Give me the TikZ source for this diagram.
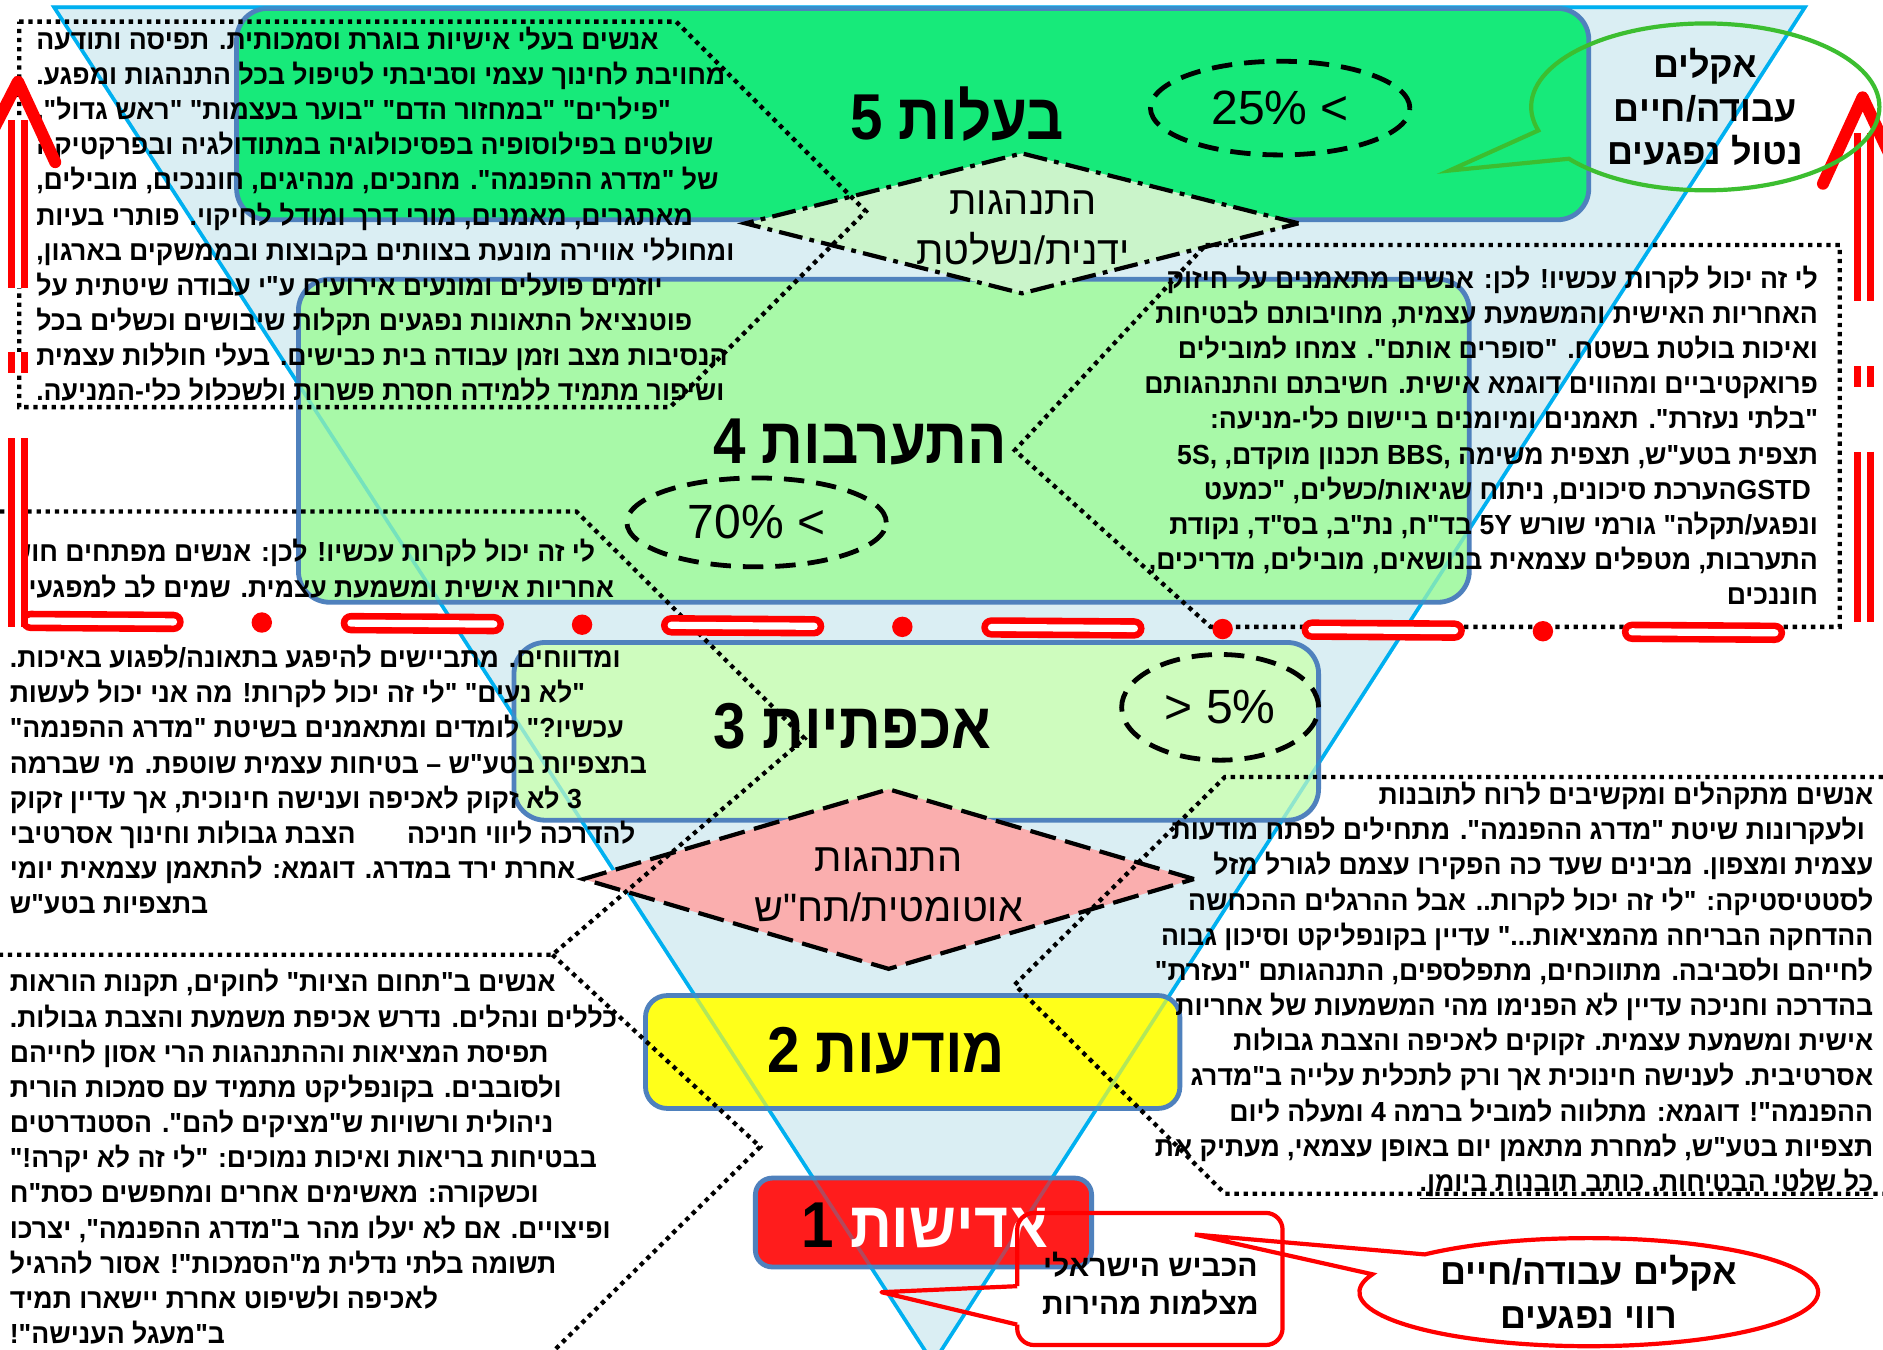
\documentclass[tikz,border=0pt]{standalone}
\usepackage{fontspec}
\setmainfont{Liberation Sans}
\newfontfamily\heb[Script=Hebrew]{Liberation Sans}
\newfontfamily\hebbody[Script=Hebrew, FakeStretch=0.965]{Liberation Sans}
\newfontfamily\hebtitle[Script=Hebrew, FakeStretch=0.9]{Liberation Sans}
\usetikzlibrary{shapes.geometric,shapes.callouts}
\TeXXeTstate=1

\definecolor{triblue}{RGB}{218,238,243}
\definecolor{tricyan}{RGB}{0,176,240}
\definecolor{lvlblue}{RGB}{79,129,189}
\definecolor{lvlfive}{RGB}{23,234,122}
\definecolor{lvlfour}{RGB}{168,249,168}
\definecolor{lvlthree}{RGB}{206,252,190}
\definecolor{lvltwo}{RGB}{255,255,26}
\definecolor{lvlone}{RGB}{255,28,28}
\definecolor{dmdgreen}{RGB}{202,244,202}
\definecolor{dmdpink}{RGB}{250,174,174}
\definecolor{callgreen}{RGB}{60,190,48}
\definecolor{redline}{RGB}{255,0,0}

\newcommand\rl[1]{\beginR#1\endR}
\newcommand\bodyfont{\hebbody\bfseries\fontsize{23}{29.3}\selectfont}
\newcommand\titlefont{\hebtitle\bfseries\fontsize{54}{60}\selectfont}
\newcommand\dmdfont{\heb\fontsize{33}{42}\selectfont}
\newcommand\pctfont{\fontsize{40}{44}\selectfont}
\newcommand\callfont{\heb\bfseries\fontsize{30}{36.5}\selectfont}
\newcommand\roadfont{\heb\bfseries\fontsize{25}{32}\selectfont}

\tikzset{
  lvlbox/.style={draw=lvlblue, line width=4pt, rounded corners=26pt, inner sep=0pt},
  lvltitle/.style={font=\titlefont, inner sep=0pt},
  dmdshape/.style={diamond, draw, line width=3.5pt, inner sep=0pt},
  dmdtxt/.style={align=center, font=\dmdfont, inner sep=0pt},
  pctring/.style={ellipse, draw, line width=4pt, dash pattern=on 17pt off 10pt, inner sep=0pt, font=\pctfont},
  bodytxt/.style={font=\bodyfont, inner sep=0pt},
  dotframe/.style={line width=3.6pt, dash pattern=on 3.6pt off 4pt},
  redpill/.style={draw=redline, line width=5.5pt, double=white, double distance=6pt, line cap=round},
  redside/.style={draw=redline, line width=6pt, double=white, double distance=5pt},
  redtip/.style={draw=redline, line width=10pt, line cap=round, line join=round},
  redcall/.style={draw=redline, line width=3.5pt},
}

\begin{document}
\begin{tikzpicture}[x=1pt, y=-1pt]
\useasboundingbox (0,0) rectangle (1568,1124);
\clip (0,0) rectangle (1568,1124);
\fill[white] (0,0) rectangle (1568,1124);

% inverted pyramid
\filldraw[fill=triblue, draw=tricyan, line width=3pt] (45,6) -- (1503,6) -- (777,1135) -- cycle;

% levels
\node[lvlbox, fill=lvlfive, minimum width=1126pt, minimum height=176pt] (lvlFive) at (760,95) {};
\node[lvlbox, fill=lvlfour, minimum width=975pt, minimum height=269pt] (lvlFour) at (736,367) {};
\node[lvlbox, fill=lvlthree, minimum width=670pt, minimum height=148pt] (lvlThree) at (763,609) {};
\node[lvlbox, fill=lvltwo, minimum width=445pt, minimum height=94pt, rounded corners=18pt] (lvlTwo) at (760,876) {};
\node[lvlbox, fill=lvlone, minimum width=280pt, minimum height=74pt, rounded corners=14pt] (lvlOne) at (769,1018) {};
\draw[tricyan, line width=3pt, opacity=0.3] (45,6) -- (1503,6) -- (777,1135) -- cycle;

% behaviour diamonds
\node[dmdshape, fill=dmdgreen, minimum width=462pt, minimum height=118pt,
  dash pattern=on 20pt off 6pt on 4pt off 6pt] (dmdHand) at (851,186) {};
\node[dmdtxt] (dmdHandTxt) at (852,190) {\rl{התנהגות}\\\rl{ידנית/נשלטת}};
\node[dmdshape, fill=dmdpink, minimum width=510pt, minimum height=151pt,
  dash pattern=on 22pt off 8pt] (dmdAuto) at (740,732) {};
\node[dmdtxt] (dmdAutoTxt) at (740,737) {\rl{התנהגות}\\\rl{אוטומטית/תח"ש}};

% percentages
\node[pctring, minimum width=216pt, minimum height=78pt] (pctFive) at (1066,90) {25\% <};
\node[pctring, minimum width=216pt, minimum height=74pt] (pctFour) at (630,435) {70\% <};
\node[pctring, minimum width=164pt, minimum height=88pt] (pctThree) at (1016,589) {> 5\%};

% titles
\node[lvltitle] (ttlFive) at (797,95) {\rl{בעלות 5}};
\node[lvltitle] (ttlFour) at (716,368) {\rl{התערבות 4}};
\node[lvltitle] (ttlThree) at (710,605) {\rl{אכפתיות 3}};
\node[lvltitle] (ttlTwo) at (738,875) {\rl{מודעות 2}};
\node[lvltitle] (ttlOne) at (770,1020) {\rl{{\color{white}אדישות} 1}};

% text blocks
\node[bodytxt, align=left, anchor=north west] (txtFive) at (30,22) {%
\rl{אנשים בעלי אישיות בוגרת וסמכותית. תפיסה ותודעה}\\
\rl{מחויבת לחינוך עצמי וסביבתי לטיפול בכל התנהגות ומפגע.}\\
\rl{"פילרים" "במחזור הדם" "בוער בעצמות" "ראש גדול".}\\
\rl{שולטים בפילוסופיה בפסיכולוגיה במתודולגיה ובפרקטיקה}\\
\rl{של "מדרג ההפנמה". מחנכים, מנהיגים, חוננכים, מובילים,}\\
\rl{מאתגרים, מאמנים, מורי דרך ומודל לחיקוי. פותרי בעיות}\\
\rl{ומחוללי אווירה מונעת בצוותים בקבוצות ובממשקים בארגון,}\\
\rl{יוזמים פועלים ומונעים אירועים ע"י עבודה שיטתית על}\\
\rl{פוטנציאל התאונות נפגעים תקלות שיבושים וכשלים בכל}\\
\rl{הנסיבות מצב וזמן עבודה בית כבישים. בעלי חוללות עצמית}\\
\rl{ושיפור מתמיד ללמידה חסרת פשרות ולשכלול כלי-המניעה.}};

\node[bodytxt, align=right, anchor=north east] (txtFour) at (1514,221) {%
\rl{לי זה יכול לקרות עכשיו!  לכן: אנשים מתאמנים על חיזוק}\\
\rl{האחריות האישית והמשמעת עצמית, מחויבותם לבטיחות}\\
\rl{ואיכות בולטת בשטח. "סופרים אותם". צמחו למובילים}\\
\rl{פרואקטיביים ומהווים דוגמא אישית. חשיבתם והתנהגותם}\\
\rl{"בלתי נעזרת". תאמנים ומיומנים ביישום כלי-מניעה:}\\
\rl{תצפית בטע"ש, תצפית משימה BBS, תכנון מוקדם, 5S,}\\
\rl{GSTD\kern0ptהערכת סיכונים, ניתוח שגיאות/כשלים, "כמעט}\kern6pt\\
\rl{ונפגע/תקלה" גורמי שורש 5Y בד"ח, נת"ב, בס"ד, נקודת}\\
\rl{התערבות, מטפלים עצמאית בנושאים, מובילים, מדריכים,}\\
\rl{חוננכים}};

\node[bodytxt, align=left, anchor=north west] (txtFourLeft) at (8,449) {%
\rl{לי זה יכול לקרות עכשיו! לכן: אנשים מפתחים חוש}\\
\rl{אחריות אישית ומשמעת עצמית. שמים לב למפגעים}};

\node[bodytxt, align=left, anchor=north west] (txtThree) at (8,537) {%
\rl{ומדווחים. מתביישים להיפגע בתאונה/לפגוע באיכות.}\\
\rl{"לא נעים" "לי זה יכול לקרות! מה אני יכול לעשות}\\
\rl{עכשיו?" לומדים ומתאמנים בשיטת "מדרג ההפנמה"}\\
\rl{בתצפיות בטע"ש – בטיחות עצמית שוטפת. מי שברמה}\\
\rl{3 לא זקוק לאכיפה וענישה חינוכית, אך עדיין זקוק}\\
\rl{להדרכה ליווי חניכה\hspace{43pt}הצבת גבולות וחינוך אסרטיבי}\\
\rl{אחרת ירד במדרג. דוגמא: להתאמן עצמאית יומי}\\
\rl{בתצפיות בטע"ש}};

\node[bodytxt, align=right, anchor=north east] (txtTwo) at (1560,651) {%
\rl{אנשים מתקהלים ומקשיבים לרוח לתובנות}\\
\rl{ולעקרונות שיטת "מדרג ההפנמה". מתחילים לפתח מודעות}\kern7pt\\
\rl{עצמית ומצפון. מבינים שעד כה הפקירו עצמם לגורל מזל}\\
\rl{לסטטיסטיקה: "לי זה יכול לקרות.. אבל ההרגלים ההכחשה}\\
\rl{ההדחקה הבריחה מהמציאות..." עדיין בקונפליקט וסיכון גבוה}\\
\rl{לחייהם ולסביבה. מתווכחים, מתפלספים, התנהגותם "נעזרת"}\\
\rl{בהדרכה וחניכה עדיין לא הפנימו מהי המשמעות של אחריות}\\
\rl{אישית ומשמעת עצמית. זקוקים לאכיפה והצבת גבולות}\\
\rl{אסרטיבית. לענישה חינוכית אך ורק לתכלית עלייה ב"מדרג}\\
\rl{ההפנמה"! דוגמא: מתלווה למוביל ברמה 4 ומעלה ליום}\\
\rl{תצפיות בטע"ש, למחרת מתאמן יום באופן עצמאי, מעתיק את}\\
\underline{\rl{כל שלטי הבטיחות, כותב תובנות ביומן.}}};

\node[bodytxt, align=left, anchor=north west] (txtOne) at (8,807) {%
\rl{אנשים ב"תחום הציות" לחוקים, תקנות הוראות}\\
\rl{כללים ונהלים. נדרש אכיפת משמעת והצבת גבולות.}\\
\rl{תפיסת המציאות וההתנהגות הרי אסון לחייהם}\\
\rl{ולסובבים. בקונפליקט מתמיד עם סמכות הורית}\\
\rl{ניהולית ורשויות ש"מציקים להם". הסטנדרטים}\\
\rl{בבטיחות בריאות ואיכות נמוכים: "לי זה לא יקרה!"}\\
\rl{וכשקורה: מאשימים אחרים ומחפשים כסת"ח}\\
\rl{ופיצויים. אם לא יעלו מהר ב"מדרג ההפנמה", יצרכו}\\
\rl{תשומה בלתי נדלית מ"הסמכות"! אסור להרגיל}\\
\rl{לאכיפה ולשיפוט אחרת יישארו תמיד}\\
\rl{ב"מעגל הענישה"!}};

% dotted frames
\draw[dotframe] (16,18) -- (563,18) -- (721,176) -- (558,339) -- (16,339) -- cycle;
\draw[dotframe] (1004,204) -- (1532,204) -- (1532,522) -- (1008,522) -- (845,375) -- cycle;
\draw[dotframe] (0,426) -- (480,426) -- (670,615) -- (460,795) -- (0,795);
\draw[dotframe] (460,795) -- (633,955) -- (462,1124);
\draw[dotframe] (1568,647) -- (1020,647) -- (845,820) -- (1020,994) -- (1568,994);

% red borders
\foreach \k in {0,...,5}
  \draw[redpill] ({25.5+266.7*\k},{517+0.0068*(8.5+266.7*\k)}) -- ({144.5+266.7*\k},{517+0.0068*(127.5+266.7*\k)});
\foreach \k in {0,...,4}
  \fill[redline] ({218+266.7*\k},{517+0.0068*(201+266.7*\k)}) circle (8.5pt);
\foreach \ya/\yb in {100/240,293/311,365/522}
  \draw[redside] (15,\ya) -- (15,\yb);
\draw[redtip] (-22,140) -- (15,68) -- (46,135);
\foreach \ya/\yb in {111/251,305/322,376/518}
  \draw[redside] (1552,\ya) -- (1552,\yb);
\draw[redtip] (1518,153) -- (1551,81) -- (1585,153);

% callouts
\node[ellipse callout, draw=callgreen, line width=3.5pt, minimum width=290pt, minimum height=130pt,
  callout absolute pointer={(1207,142)}, callout pointer arc=22, align=center, font=\callfont, inner sep=0pt]
  (callGreen) at (1420,89) {\rl{אקלים}\\\rl{עבודה/חיים}\\\rl{נטול נפגעים}};
\node[ellipse callout, redcall, minimum width=382pt, minimum height=90pt,
  callout absolute pointer={(995,1028)}, callout pointer arc=25, align=center, font=\callfont, inner sep=0pt]
  (callRed) at (1323,1076) {\rl{אקלים עבודה/חיים}\\\rl{רווי נפגעים}};
\node[font=\roadfont, align=center, inner sep=0pt] (callRoad) at (958,1069) {\rl{הכביש הישראלי}\\\rl{מצלמות מהירות}};
\coordinate (roadTip) at (734,1076);
\draw[redcall, rounded corners=14pt] (847,1071) -- (847,1010) -- (1068,1010) -- (1068,1120) -- (847,1120) -- (847,1103);
\draw[redcall, line join=round] (847,1071) -- (roadTip) -- (847,1103);
\end{tikzpicture}
\end{document}
